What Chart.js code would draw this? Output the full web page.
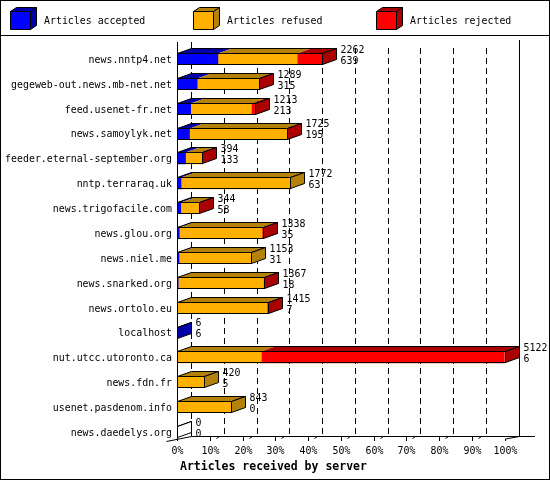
<!DOCTYPE html>
<html>
<head>
<meta charset="utf-8">
<script src="https://cdn.jsdelivr.net/npm/chart.js@4/dist/chart.umd.min.js"></script>
<style>
  html, body { margin: 0; padding: 0; background: #fff; }
  canvas { display: block; }
</style>
</head>
<body>
<canvas id="serverChart" width="550" height="480"></canvas>
<script>
// Articles received by server (innreport style 3D bars)
const servers = [
    'news.nntp4.net', 'gegeweb-out.news.mb-net.net', 'feed.usenet-fr.net',
    'news.samoylyk.net', 'feeder.eternal-september.org', 'nntp.terraraq.uk',
    'news.trigofacile.com', 'news.glou.org', 'news.niel.me', 'news.snarked.org',
    'news.ortolo.eu', 'localhost', 'nut.utcc.utoronto.ca', 'news.fdn.fr',
    'usenet.pasdenom.info', 'news.daedelys.org'
];
const accepted = [639, 315, 213, 195, 133, 63, 58, 35, 31, 18, 7, 6, 6, 5, 0, 0];
const refused  = [1240, 964, 950, 1520, 255, 1709, 280, 1293, 1122, 1334, 1398, 0, 1313, 415, 843, 0];
const rejected = [383, 10, 50, 10, 6, 0, 6, 10, 0, 15, 10, 0, 3803, 0, 0, 0];
const percentTicks = ['0%', '10%', '20%', '30%', '40%', '50%', '60%', '70%', '80%', '90%', '100%'];

const totals = servers.map((_, i) => accepted[i] + refused[i] + rejected[i]);
const xMax = Math.max(...totals);

const faceColors = ['#0000ff', '#ffb000', '#ff0000'];
const shadeColors = ['#0000aa', '#b4820a', '#aa0000'];

const DX = 14, DY = -5;      // bar depth
const FLOOR_Y = 436.5;        // back axis line

function monoText(ctx, str, x, y, align, bold) {
    ctx.save();
    ctx.translate(x, y);
    if (!bold) ctx.scale(0.9, 1);
    ctx.font = bold ? 'bold 11.5px "DejaVu Sans Mono"' : '11px "DejaVu Sans Mono"';
    ctx.textAlign = align;
    ctx.textBaseline = 'middle';
    ctx.fillStyle = '#000';
    ctx.fillText(str, 0, 0);
    ctx.restore();
}

function poly(ctx, pts, fill, stroke) {
    ctx.beginPath();
    ctx.moveTo(pts[0][0], pts[0][1]);
    for (let k = 1; k < pts.length; k++) ctx.lineTo(pts[k][0], pts[k][1]);
    ctx.closePath();
    if (fill) { ctx.fillStyle = fill; ctx.fill(); }
    if (stroke) { ctx.strokeStyle = '#000'; ctx.lineWidth = 1; ctx.stroke(); }
}

function line(ctx, x1, y1, x2, y2, dash) {
    ctx.beginPath();
    ctx.setLineDash(dash || []);
    ctx.moveTo(x1, y1);
    ctx.lineTo(x2, y2);
    ctx.strokeStyle = '#000';
    ctx.lineWidth = 1;
    ctx.stroke();
    ctx.setLineDash([]);
}

const threeD = {
    id: 'threeD',
    beforeDatasetsDraw(chart) {
        const ctx = chart.ctx;
        const xs = chart.scales.x;
        ctx.save();
        // back wall grid
        percentTicks.forEach((t, i) => {
            const xb = Math.round(xs.getPixelForValue(xMax * i / 10) + DX) + 0.5;
            if (i === 0) line(ctx, xb, 42, xb, FLOOR_Y, [7, 3]);
            else if (i === percentTicks.length - 1) line(ctx, xb, 40, xb, FLOOR_Y);
            else line(ctx, xb, 48, xb, FLOOR_Y, [6, 4]);
        });
        // floor / axis
        const x0 = Math.round(xs.getPixelForValue(0)) + 0.5;
        line(ctx, x0 + DX, FLOOR_Y, 535, FLOOR_Y);
        line(ctx, x0 - 11, 441.5, x0 + DX, FLOOR_Y);
        line(ctx, x0, 42, x0, 441);
        percentTicks.forEach((t, i) => {
            const xf = Math.round(xs.getPixelForValue(xMax * i / 10)) + 0.5;
            if (i > 0 && i < percentTicks.length - 1) {
                line(ctx, xf, FLOOR_Y, xf, 441);
                line(ctx, xf + 6, 438.5, xf + 9, FLOOR_Y);
            }
            if (i === percentTicks.length - 1) {
                line(ctx, xf, 439, xf, 441);
                line(ctx, xf, 439, xf + DX, FLOOR_Y);
            }
            monoText(ctx, t, xf, 451, 'center');
        });
        monoText(ctx, 'Articles received by server', 180, 467, 'left', true);
        ctx.restore();
    },
    afterDatasetsDraw(chart) {
        const ctx = chart.ctx;
        const xs = chart.scales.x;
        const ys = chart.scales.y;
        const metas = chart.data.datasets.map((_, d) => chart.getDatasetMeta(d));
        const series = [accepted, refused, rejected];
        ctx.save();
        servers.forEach((name, i) => {
            const cy = ys.getPixelForValue(i);
            const top = Math.round(cy - 6) + 0.5;
            const bot = top + 11;
            const x0 = Math.round(xs.getPixelForValue(0)) + 0.5;
            let a = xs.getPixelForValue(0);
            let last = -1;
            metas.forEach((m, d) => {
                const el = m.data[i];
                const b = el.x;
                if (series[d][i] > 0) {
                    poly(ctx, [[a, top], [a + DX, top + DY], [b + DX, top + DY], [b, top]], shadeColors[d], false);
                    last = d;
                }
                a = Math.max(a, b);
            });
            const x1 = Math.round(a) + 0.5;
            poly(ctx, [[x0, top], [x0 + DX, top + DY], [x1 + DX, top + DY], [x1, top]], null, true);
            poly(ctx, [[x1, top], [x1 + DX, top + DY], [x1 + DX, bot + DY], [x1, bot]],
                 last >= 0 ? shadeColors[last] : '#fff', true);
            ctx.strokeStyle = '#000';
            ctx.lineWidth = 1;
            ctx.strokeRect(x0, top, x1 - x0, bot - top);

            // labels
            monoText(ctx, name, 172, cy + 1, 'right');
            monoText(ctx, String(totals[i]), x1 + DX + 4, cy - 9, 'left');
            monoText(ctx, String(accepted[i]), x1 + DX + 4, cy + 2, 'left');
        });
        ctx.restore();
    },
    afterDraw(chart) {
        const ctx = chart.ctx;
        ctx.save();
        // legend
        const iconX = [10, 193, 376];
        chart.data.datasets.forEach((ds, d) => {
            const x = iconX[d] + 0.5, y = 11.5;
            poly(ctx, [[x, y], [x + 20, y], [x + 20, y + 18], [x, y + 18]], faceColors[d], true);
            poly(ctx, [[x, y], [x + 6, y - 4], [x + 26, y - 4], [x + 20, y]], shadeColors[d], true);
            poly(ctx, [[x + 20, y], [x + 26, y - 4], [x + 26, y + 14], [x + 20, y + 18]], shadeColors[d], true);
            monoText(ctx, ds.label, iconX[d] + 34, 21, 'left');
        });
        line(ctx, 0, 35.5, 550, 35.5);
        ctx.strokeStyle = '#000';
        ctx.lineWidth = 1;
        ctx.strokeRect(0.5, 0.5, 549, 479);
        ctx.restore();
    }
};

const chart = new Chart(document.getElementById('serverChart'), {
    type: 'bar',
    data: {
        labels: servers,
        datasets: [
            { label: 'Articles accepted', data: accepted, backgroundColor: faceColors[0] },
            { label: 'Articles refused', data: refused, backgroundColor: faceColors[1] },
            { label: 'Articles rejected', data: rejected, backgroundColor: faceColors[2] }
        ]
    },
    options: {
        indexAxis: 'y',
        responsive: false,
        animation: false,
        events: [],
        devicePixelRatio: 1,
        layout: { padding: { left: 177, right: 45.3, top: 46.6, bottom: 35.6 } },
        datasets: { bar: { barThickness: 11, borderWidth: 0 } },
        plugins: { legend: { display: false }, tooltip: { enabled: false } },
        scales: {
            x: { display: false, stacked: true, min: 0, max: xMax },
            y: { display: false, stacked: true }
        }
    },
    plugins: [threeD]
});
</script>
</body>
</html>
